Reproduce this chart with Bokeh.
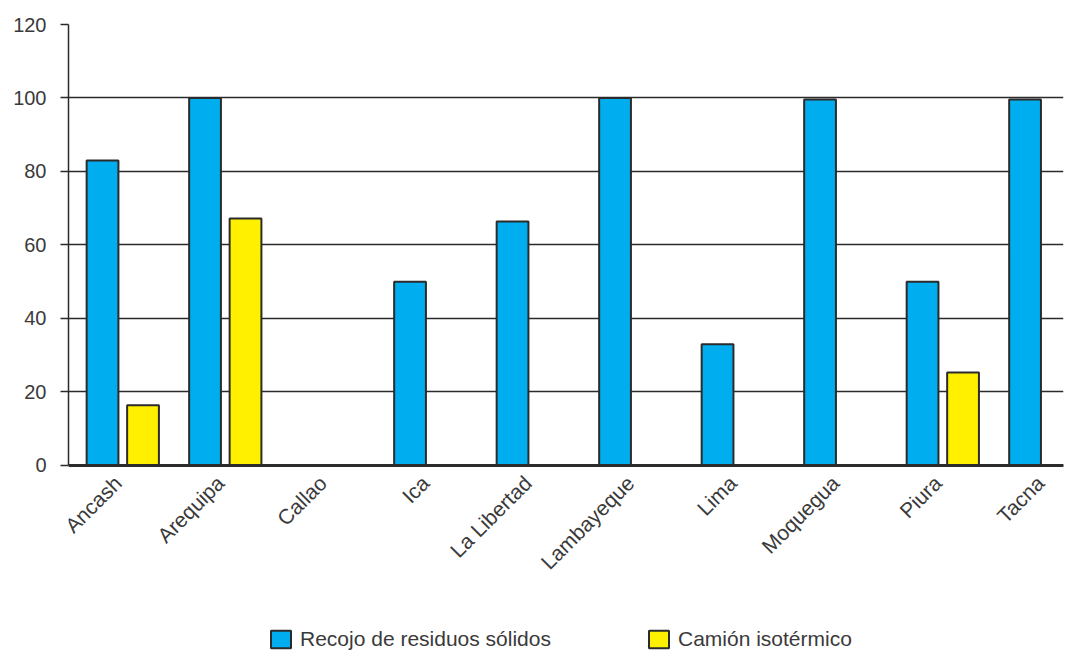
import numpy as np
from bokeh.plotting import figure
from bokeh.models import ColumnDataSource, Range1d, FixedTicker, Legend, LegendItem
from bokeh.transform import dodge
from bokeh.embed import file_html
from bokeh.resources import INLINE

regions = ["Áncash", "Arequipa", "Callao", "Ica", "La Libertad", "Lambayeque",
           "Lima", "Moquegua", "Piura", "Tacna"]
recojo = [83, 100, 0, 50, 66.4, 100, 33, 99.6, 50, 99.6]
camion = [16.4, 67.2, 0, 0, 0, 0, 0, 0, 25.3, 0]
series_names = ["Recojo de residuos sólidos", "Camión isotérmico"]
y_ticks = [0, 20, 40, 60, 80, 100, 120]

FONT = "Liberation Sans"
TXT = "#3a3a3a"
LINE = "#2b2b2b"

idx = np.arange(len(regions))
src = ColumnDataSource(dict(idx=idx, recojo=recojo, camion=camion))

# the frame reaches the bottom of the page; value 0 sits where the reference's
# base line is, and the room below it holds the category labels and the legend
p = figure(width=1075, height=653, output_backend="svg", toolbar_location=None,
           x_range=Range1d(-0.332, 9.375), y_range=Range1d(-51.16, 120),
           min_border_left=68, min_border_right=12, min_border_top=24,
           min_border_bottom=0)
p.outline_line_color = None
p.background_fill_color = "white"
p.border_fill_color = "white"

r1 = p.vbar(x="idx", top="recojo", width=0.31, source=src,
            fill_color="#00ADEF", line_color=LINE, line_width=2)
r2 = p.vbar(x=dodge("idx", 0.395, range=p.x_range), top="camion", width=0.31,
            source=src, fill_color="#FFF000", line_color=LINE, line_width=2)

# grid
p.xgrid.grid_line_color = None
p.ygrid.grid_line_color = LINE
p.ygrid.grid_line_width = 1.5
p.ygrid.ticker = FixedTicker(ticks=y_ticks)

# y axis
p.yaxis.ticker = FixedTicker(ticks=y_ticks)
p.yaxis.bounds = (0, 120)
p.yaxis.axis_line_color = LINE
p.yaxis.axis_line_width = 1.5
p.yaxis.major_tick_line_color = LINE
p.yaxis.major_tick_line_width = 1.5
p.yaxis.major_tick_out = 8
p.yaxis.major_tick_in = 0
p.yaxis.minor_tick_line_color = None
p.yaxis.major_label_standoff = 14
p.yaxis.major_label_text_font = FONT
p.yaxis.major_label_text_font_size = "20px"
p.yaxis.major_label_text_color = TXT

# x axis drawn at value 0
tick_pos = [float(i) + 0.15 for i in idx]
p.xaxis.fixed_location = 0
p.xaxis.ticker = FixedTicker(ticks=tick_pos)
p.xaxis.major_label_overrides = {t: r for t, r in zip(tick_pos, regions)}
p.xaxis.major_label_orientation = np.pi / 4
p.xaxis.major_tick_line_color = None
p.xaxis.minor_tick_line_color = None
p.xaxis.axis_line_color = LINE
p.xaxis.axis_line_width = 3
p.xaxis.major_label_standoff = 8
p.xaxis.major_label_text_font = FONT
p.xaxis.major_label_text_font_size = "21px"
p.xaxis.major_label_text_color = TXT

legend = Legend(items=[LegendItem(label=series_names[0], renderers=[r1]),
                       LegendItem(label=series_names[1], renderers=[r2])],
                orientation="horizontal", location=(200, 2),
                label_text_font=FONT, label_text_font_size="21px",
                label_text_color=TXT, glyph_width=25, glyph_height=22,
                label_standoff=7, spacing=95, border_line_color=None,
                background_fill_alpha=0, margin=0, padding=0)
p.add_layout(legend, "center")

open("out.html", "w").write(file_html(p, INLINE))
